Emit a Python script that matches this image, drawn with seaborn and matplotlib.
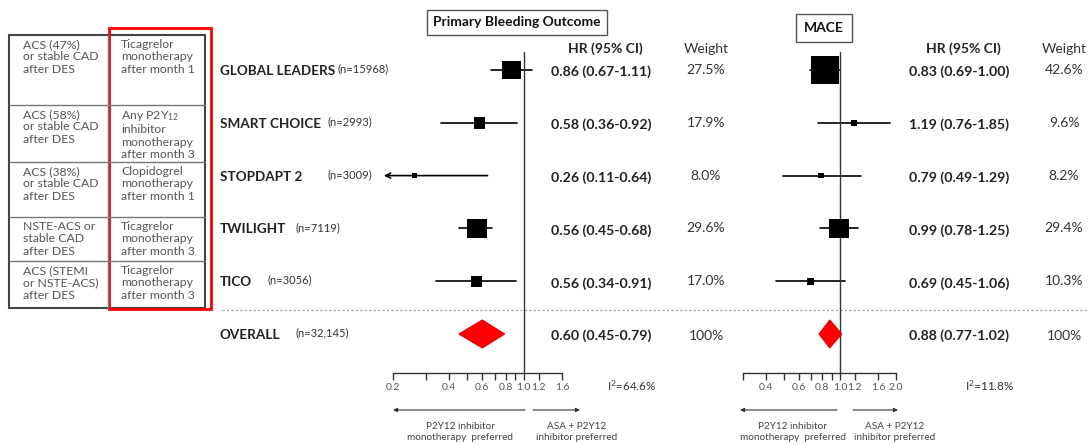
#!/usr/bin/env python3
import numpy as np
import matplotlib
matplotlib.use("Agg")
import matplotlib.pyplot as plt
from matplotlib.patches import Rectangle, Polygon
from matplotlib.ticker import FixedLocator, FixedFormatter, NullLocator
import seaborn as sns

sns.set_theme(style="white")
plt.rcParams["font.family"] = ["Lato", "DejaVu Sans"]
plt.rcParams["mathtext.fontset"] = "custom"
plt.rcParams["mathtext.rm"] = "Lato"
plt.rcParams["mathtext.default"] = "rm"

# ---- data ----
TRIALS = ["GLOBAL LEADERS", "SMART CHOICE", "STOPDAPT 2", "TWILIGHT", "TICO"]
TRIAL_N = ["(n=15968)", "(n=2993)", "(n=3009)", "(n=7119)", "(n=3056)"]
OVERALL_LABEL = "OVERALL"
OVERALL_N = "(n=32,145)"

POPULATION = ["ACS (47%)\nor stable CAD\nafter DES",
              "ACS (58%)\nor stable CAD\nafter DES",
              "ACS (38%)\nor stable CAD\nafter DES",
              "NSTE-ACS or\nstable CAD\nafter DES",
              "ACS (STEMI\nor NSTE-ACS)\nafter DES"]
STRATEGY = ["Ticagrelor\nmonotherapy\nafter month 1",
            "Any P2Y$_{12}$\ninhibitor\nmonotherapy\nafter month 3",
            "Clopidogrel\nmonotherapy\nafter month 1",
            "Ticagrelor\nmonotherapy\nafter month 3",
            "Ticagrelor\nmonotherapy\nafter month 3"]

BLEED_HR = [0.86, 0.58, 0.26, 0.56, 0.56]
BLEED_LO = [0.67, 0.36, 0.11, 0.45, 0.34]
BLEED_HI = [1.11, 0.92, 0.64, 0.68, 0.91]
BLEED_W = [27.5, 17.9, 8.0, 29.6, 17.0]
BLEED_OVERALL = [0.60, 0.45, 0.79]
BLEED_I2 = 64.6

MACE_HR = [0.83, 1.19, 0.79, 0.99, 0.69]
MACE_LO = [0.69, 0.76, 0.49, 0.78, 0.45]
MACE_HI = [1.00, 1.85, 1.29, 1.25, 1.06]
MACE_W = [42.6, 9.6, 8.2, 29.4, 10.3]
MACE_OVERALL = [0.88, 0.77, 1.02]
MACE_I2 = 11.8

BLEED_TICKS = [0.2, 0.3, 0.4, 0.5, 0.6, 0.7, 0.8, 0.9, 1.0, 1.2, 1.6]
BLEED_TICKLABELS = ["0.2", "", "0.4", "", "0.6", "", "0.8", "", "1.0", "1.2", "1.6"]
MACE_TICKS = [0.3, 0.4, 0.5, 0.6, 0.7, 0.8, 0.9, 1.0, 1.2, 1.6, 2.0]
MACE_TICKLABELS = ["", "0.4", "", "0.6", "", "0.8", "", "1.0", "1.2", "1.6", "2.0"]

# ---- layout (pixels) ----
W, H = 1088, 445
ROW0, STEP = 70, 52.8
AX_TOP, AX_BOT = 40, 373
N_X = [337, 328, 327, 295, 267]
N_X_OVERALL = 295
TABLE_ROWS = [35, 105, 162, 217, 261, 308]


def ypx(i):
    return ROW0 + STEP * i


fig = plt.figure(figsize=(W / 100, H / 100), dpi=100)
bg = fig.add_axes([0, 0, 1, 1])
bg.set_xlim(0, W)
bg.set_ylim(H, 0)
bg.axis("off")

ylim = ((AX_BOT - ROW0) / STEP, (AX_TOP - ROW0) / STEP)


def forest(x0, x1, xmin, xmax, hr, lo, hi, w, overall, ticks, ticklabels):
    ax = fig.add_axes([x0 / W, 1 - AX_BOT / H, (x1 - x0) / W, (AX_BOT - AX_TOP) / H])
    ax.set_facecolor("none")
    ax.set_xscale("log")
    ax.set_xlim(xmin, xmax)
    ax.set_ylim(*ylim)
    rows = np.arange(len(hr))
    # CI lines
    for r, l, h in zip(rows, lo, hi):
        if l < xmin:
            ax.annotate("", xy=(xmin / 1.12, r), xytext=(h, r), annotation_clip=False,
                        arrowprops=dict(arrowstyle="->", lw=1.2, color="black",
                                        mutation_scale=9, shrinkA=0, shrinkB=0))
        else:
            ax.plot([l, h], [r, r], color="black", lw=1.2, clip_on=False)
    sns.scatterplot(x=hr, y=rows, s=(0.48 * np.array(w)) ** 2, marker="s",
                    color="black", edgecolor="black", linewidth=0, ax=ax,
                    legend=False, zorder=3, clip_on=False)
    # overall diamond
    o, ol, oh = overall
    r = len(hr)
    d = 14 / STEP
    ax.add_patch(Polygon([(ol, r), (o, r - d), (oh, r), (o, r + d)], closed=True,
                         fc="#ff0000", ec="#e00000", lw=0.8, zorder=3))
    # reference line
    ax.plot([1, 1], [(52 - ROW0) / STEP, ylim[0]], color="#333333", lw=1.0, clip_on=False)
    for s in ["top", "right", "left"]:
        ax.spines[s].set_visible(False)
    ax.spines["bottom"].set_color("#333333")
    ax.spines["bottom"].set_linewidth(1.0)
    ax.xaxis.set_major_locator(FixedLocator(ticks))
    ax.xaxis.set_major_formatter(FixedFormatter(ticklabels))
    ax.xaxis.set_minor_locator(NullLocator())
    ax.tick_params(axis="x", direction="out", length=5, width=1, color="#333333",
                   labelsize=7.5, labelcolor="#555555", pad=2, bottom=True)
    ax.set_yticks([])
    ax.set_xlabel("")
    ax.set_ylabel("")
    return ax


ax1 = forest(393, 562, 0.2, 1.6, BLEED_HR, BLEED_LO, BLEED_HI, BLEED_W,
             BLEED_OVERALL, BLEED_TICKS, BLEED_TICKLABELS)
ax2 = forest(743, 896, 0.3, 2.0, MACE_HR, MACE_LO, MACE_HI, MACE_W,
             MACE_OVERALL, MACE_TICKS, MACE_TICKLABELS)

# ---- row labels ----
labels = TRIALS + [OVERALL_LABEL]
ns = TRIAL_N + [OVERALL_N]
nxs = N_X + [N_X_OVERALL]
for i, (lab, n, nx) in enumerate(zip(labels, ns, nxs)):
    bg.text(220, ypx(i) + 1, lab, ha="left", va="center", fontsize=9.7,
            fontweight="bold", color="#222222")
    bg.text(nx, ypx(i) - 1, n, ha="left", va="center", fontsize=8, color="#333333")

# dashed separator
bg.plot([222, W], [310, 310], color="#999999", lw=0.8, ls=(0, (2, 2)))


def columns(hr_x, w_x, hr, lo, hi, w, overall):
    bg.text(hr_x + 54, 49, "HR (95% CI)", ha="center", va="center", fontsize=10,
            fontweight="bold", color="#222222")
    bg.text(w_x, 49, "Weight", ha="center", va="center", fontsize=10, color="#333333")
    for i, (a, b, c, ww) in enumerate(zip(hr, lo, hi, w)):
        bg.text(hr_x, ypx(i) + 2, f"{a:.2f} ({b:.2f}-{c:.2f})", ha="left", va="center",
                fontsize=10.2, fontweight="bold", color="#222222")
        bg.text(w_x, ypx(i), f"{ww:.1f}%", ha="center", va="center", fontsize=10,
                color="#333333")
    o, ol, oh = overall
    n = len(hr)
    bg.text(hr_x, ypx(n) + 2, f"{o:.2f} ({ol:.2f}-{oh:.2f})", ha="left", va="center",
            fontsize=10.2, fontweight="bold", color="#222222")
    bg.text(w_x, ypx(n) + 2, "100%", ha="center", va="center", fontsize=10, color="#333333")


columns(551, 706, BLEED_HR, BLEED_LO, BLEED_HI, BLEED_W, BLEED_OVERALL)
columns(909, 1064, MACE_HR, MACE_LO, MACE_HI, MACE_W, MACE_OVERALL)

# titles
bg.text(517, 22.5, "Primary Bleeding Outcome", ha="center", va="center", fontsize=10,
        fontweight="bold", color="#111111",
        bbox=dict(boxstyle="square,pad=0.45", fc="white", ec="#555555", lw=1))
bg.text(824, 28, "MACE", ha="center", va="center", fontsize=10, fontweight="bold",
        color="#111111",
        bbox=dict(boxstyle="square,pad=0.55", fc="white", ec="#555555", lw=1))

# heterogeneity
bg.text(607, 386, f"I$^2$={BLEED_I2:.1f}%", ha="left", va="center", fontsize=8.5,
        color="#333333")
bg.text(965, 386, f"I$^2$={MACE_I2:.1f}%", ha="left", va="center", fontsize=8.5,
        color="#333333")


def direction(l0, l1, r0, r1, lc, rc):
    ap = dict(arrowstyle="-|>", lw=0.8, color="#333333", mutation_scale=6,
              shrinkA=0, shrinkB=0)
    bg.annotate("", xy=(l1, 410), xytext=(l0, 410), arrowprops=ap)
    bg.annotate("", xy=(r1, 410), xytext=(r0, 410), arrowprops=ap)
    bg.text(lc, 432, "P2Y12 inhibitor\nmonotherapy  preferred", ha="center", va="center",
            fontsize=7.2, color="#444444", linespacing=1.3)
    bg.text(rc, 432, "ASA + P2Y12\ninhibitor preferred", ha="center", va="center",
            fontsize=7.2, color="#444444", linespacing=1.3)


direction(525, 393, 533, 580, 460, 577)
direction(837, 740, 853, 898, 793, 895)

# ---- left table ----
bg.add_patch(Rectangle((9, 35), 196, 273, fill=False, ec="#444444", lw=1.5))
bg.plot([108, 108], [35, 308], color="#777777", lw=1)
for yy in TABLE_ROWS[1:-1]:
    bg.plot([9, 205], [yy, yy], color="#777777", lw=1)
for top, pop, strat in zip(TABLE_ROWS[:-1], POPULATION, STRATEGY):
    bg.text(23, top + 4, pop, ha="left", va="top", fontsize=8.8, color="#555555",
            linespacing=1.15)
    bg.text(121, top + 4, strat, ha="left", va="top", fontsize=8.8, color="#555555",
            linespacing=1.15)
bg.add_patch(Rectangle((109, 28), 102, 281, fill=False, ec="#ff0000", lw=2))

fig.savefig("out.png", dpi=100)
